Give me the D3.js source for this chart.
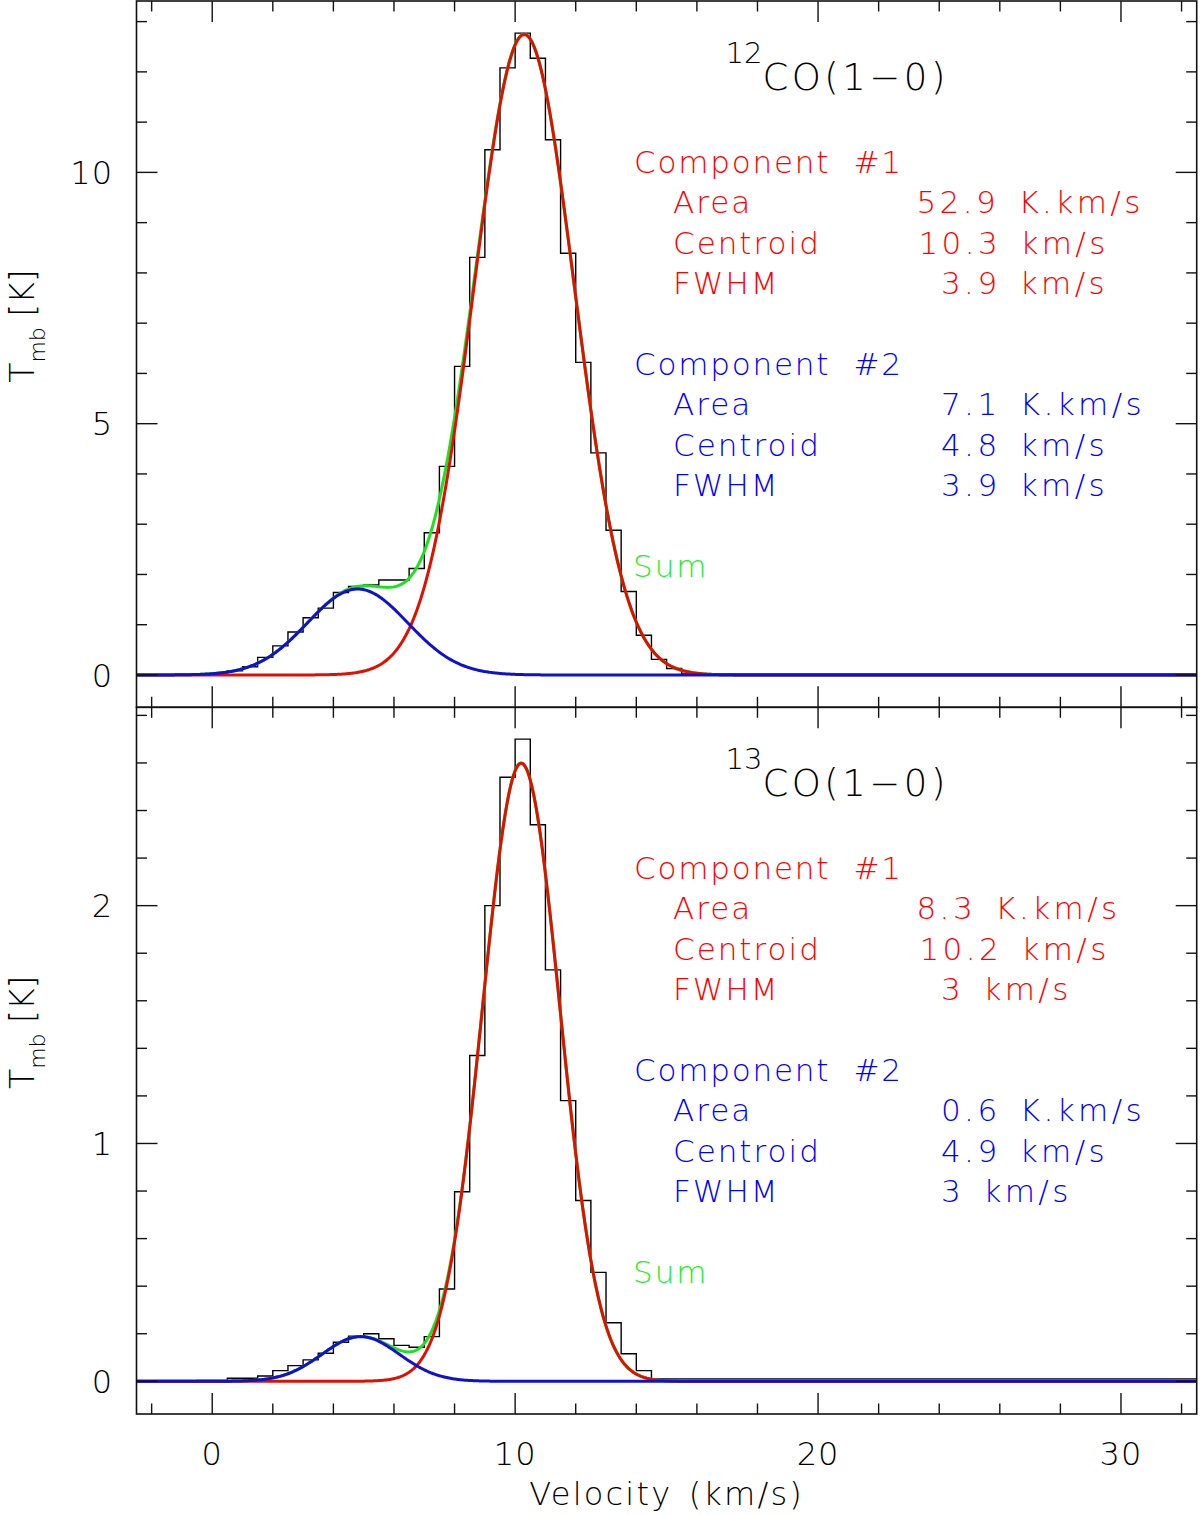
<!DOCTYPE html>
<html>
<head>
<meta charset="utf-8">
<script src="https://cdn.jsdelivr.net/npm/d3@7"></script>
<style>
  html, body { margin: 0; padding: 0; background: #fff; }
  svg { display: block; }
  text { font-family: "DejaVu Sans", "Liberation Sans", sans-serif; font-weight: 200; }
</style>
</head>
<body>
<svg id="chart" width="1200" height="1515"></svg>
<script>
// ---------------- DATA ----------------
// 12CO(1-0) spectrum: channel centre velocities (km/s) and Tmb (K)
const velocity12 = [-0.25, 0.25, 0.75, 1.25, 1.75, 2.25, 2.75, 3.25, 3.75, 4.25, 4.75, 5.25, 5.75, 6.25, 6.75, 7.25, 7.75,
                    8.25, 8.75, 9.25, 9.75, 10.25, 10.75, 11.25, 11.75, 12.25, 12.75, 13.25, 13.75, 14.25, 14.75, 15.25, 15.75];
const tmb12 = [0.01, 0.03, 0.085, 0.165, 0.35, 0.58, 0.855, 1.14, 1.33, 1.64, 1.76, 1.79, 1.89, 1.89, 2.12, 2.83, 4.15,
               6.14, 8.31, 10.45, 12.08, 12.77, 12.27, 10.65, 8.39, 6.22, 4.42, 2.88, 1.66, 0.79, 0.31, 0.13, 0.02];

// 13CO(1-0) spectrum
const velocity13 = [-0.25, 0.25, 0.75, 1.25, 1.75, 2.25, 2.75, 3.25, 3.75, 4.25, 4.75, 5.25, 5.75, 6.25, 6.75, 7.25, 7.75,
                    8.25, 8.75, 9.25, 9.75, 10.25, 10.75, 11.25, 11.75, 12.25, 12.75, 13.25, 13.75, 14.25, 14.75];
const tmb13 = [0.004, 0.004, 0.013, 0.013, 0.022, 0.045, 0.066, 0.09, 0.118, 0.164, 0.19, 0.20, 0.179, 0.151, 0.143, 0.188, 0.388,
               0.797, 1.37, 2.00, 2.54, 2.70, 2.34, 1.73, 1.18, 0.76, 0.458, 0.246, 0.116, 0.045, 0.01];
const channelWidth = 0.5;

// Gaussian fit results (from the annotations)
const fitArea12     = [52.9, 7.1];   // K.km/s  [component #1, component #2]
const fitCentroid12 = [10.3, 4.8];   // km/s
const fitFwhm12     = [3.9, 3.9];    // km/s
const fitArea13     = [8.3, 0.6];
const fitCentroid13 = [10.2, 4.9];
const fitFwhm13     = [3, 3];

// Annotation strings
const lineNames = ["12", "13"];
const compLabels = ["Component  #1", "Component  #2"];
const paramLabels = ["Area", "Centroid", "FWHM"];
const valueText12 = [["52.9 K.km/s", "10.3 km/s", "3.9 km/s"], ["7.1 K.km/s", "4.8 km/s", "3.9 km/s"]];
const valueText13 = [["8.3 K.km/s", "10.2 km/s", "3 km/s"], ["0.6 K.km/s", "4.9 km/s", "3 km/s"]];

// Axis ticks
const xDomain = [-2.5, 32.5];
const xMajor = [0, 10, 20, 30];
const xMinor = [-2, 2, 4, 6, 8, 12, 14, 16, 18, 22, 24, 26, 28, 32];
const yDomain12 = [-0.643, 13.41];
const yMajor12 = [0, 5, 10];
const yMinor12 = [1, 2, 3, 4, 6, 7, 8, 9, 11, 12, 13];
const yDomain13 = [-0.1375, 2.834];
const yMajor13 = [0, 1, 2];
const yMinor13 = [0.2, 0.4, 0.6, 0.8, 1.2, 1.4, 1.6, 1.8, 2.2, 2.4, 2.6, 2.8];

// ---------------- LAYOUT ----------------
const L = 136.5, R = 1196.7;
const panels = [
  { top: 1,     bottom: 707.3, yDomain: yDomain12, yMajor: yMajor12, yMinor: yMinor12,
    vel: velocity12, tmb: tmb12, area: fitArea12, cen: fitCentroid12, fwhm: fitFwhm12,
    values: valueText12, iso: lineNames[0], xLabels: false },
  { top: 707.3, bottom: 1414,  yDomain: yDomain13, yMajor: yMajor13, yMinor: yMinor13,
    vel: velocity13, tmb: tmb13, area: fitArea13, cen: fitCentroid13, fwhm: fitFwhm13,
    values: valueText13, iso: lineNames[1], xLabels: true }
];
const valueX = [[[916.5, 918.5, 941], [941, 941, 941]], [[916.5, 919.5, 941], [941, 941, 941]]];

const colRed = "#ff0000", colBlue = "#0000ff", colGreen = "#22ee22";
const curveRed = "#e01000", curveBlue = "#1010d0", curveGreen = "#1fe01f";
const axisCol = "#111";

const svg = d3.select("#chart");
const x = d3.scaleLinear().domain(xDomain).range([L, R]);

function gauss(v, area, cen, fwhm) {
  const sigma = fwhm / (2 * Math.sqrt(2 * Math.log(2)));
  const peak = area / (sigma * Math.sqrt(2 * Math.PI));
  return peak * Math.exp(-0.5 * ((v - cen) / sigma) ** 2);
}

panels.forEach((p, pi) => {
  const y = d3.scaleLinear().domain(p.yDomain).range([p.bottom, p.top]);
  const g = svg.append("g");
  const clipId = "clip" + pi;
  svg.append("clipPath").attr("id", clipId).append("rect")
    .attr("x", L).attr("y", p.top).attr("width", R - L).attr("height", p.bottom - p.top);
  const plot = g.append("g").attr("clip-path", `url(#${clipId})`);

  // histogram (step) path
  const steps = [[xDomain[0], 0]];
  p.vel.forEach((v, i) => {
    steps.push([v - channelWidth / 2, p.tmb[i]]);
    steps.push([v + channelWidth / 2, p.tmb[i]]);
  });
  steps.push([xDomain[1], 0]);
  const stepPts = [];
  steps.forEach((s, i) => {
    if (i > 0) stepPts.push([s[0], steps[i - 1][1]]);
    stepPts.push(s);
  });
  const line = d3.line().x(d => x(d[0])).y(d => y(d[1]));
  plot.append("path").attr("d", line(stepPts))
    .attr("fill", "none").attr("stroke", "#000").attr("stroke-width", 1.4);

  // model curves
  const vs = d3.range(xDomain[0], xDomain[1] + 0.001, 0.04);
  const c1 = vs.map(v => [v, gauss(v, p.area[0], p.cen[0], p.fwhm[0])]);
  const c2 = vs.map(v => [v, gauss(v, p.area[1], p.cen[1], p.fwhm[1])]);
  const sum = vs.map((v, i) => [v, c1[i][1] + c2[i][1]]);
  plot.append("path").attr("d", line(sum)).attr("fill", "none")
    .attr("stroke", curveGreen).attr("stroke-width", 3);
  plot.append("path").attr("d", line(c1)).attr("fill", "none")
    .attr("stroke", curveRed).attr("stroke-width", 3);
  plot.append("path").attr("d", line(c2)).attr("fill", "none")
    .attr("stroke", curveBlue).attr("stroke-width", 3);

  // frame
  g.append("rect").attr("x", L).attr("y", p.top).attr("width", R - L).attr("height", p.bottom - p.top)
    .attr("fill", "none").attr("stroke", axisCol).attr("stroke-width", 1.6);

  // ticks
  const tk = g.append("g").attr("stroke", axisCol).attr("stroke-width", 1.4);
  const addX = (vals, len) => vals.forEach(v => {
    tk.append("line").attr("x1", x(v)).attr("x2", x(v)).attr("y1", p.top).attr("y2", p.top + len);
    tk.append("line").attr("x1", x(v)).attr("x2", x(v)).attr("y1", p.bottom).attr("y2", p.bottom - len);
  });
  addX(xMajor, 21); addX(xMinor, 10.5);
  const addY = (vals, len) => vals.forEach(v => {
    tk.append("line").attr("x1", L).attr("x2", L + len).attr("y1", y(v)).attr("y2", y(v));
    tk.append("line").attr("x1", R).attr("x2", R - len).attr("y1", y(v)).attr("y2", y(v));
  });
  addY(p.yMajor, 21); addY(p.yMinor, 10.5);

  // y tick labels
  g.selectAll(".ylab").data(p.yMajor).enter().append("text")
    .attr("x", 113).attr("y", d => y(d)).attr("dy", "0.36em")
    .attr("text-anchor", "end").attr("font-size", 32).attr("letter-spacing", 1)
    .attr("fill", "#000").text(d => d);

  // y axis title
  const yt = g.append("text")
    .attr("transform", `translate(33.5,${p.top + 325}) rotate(-90)`)
    .attr("text-anchor", "middle").attr("font-size", 33).attr("fill", "#000");
  yt.append("tspan").text("T");
  yt.append("tspan").attr("font-size", 22).attr("dy", 11).text("mb");
  yt.append("tspan").attr("dy", -11).text(" [K]");

  // species label
  const off = p.top - 1;
  const tt = g.append("text").attr("x", 725.5).attr("y", 90 + off).attr("fill", "#000");
  tt.append("tspan").attr("font-size", 29).attr("dy", -27).text(p.iso);
  tt.append("tspan").attr("font-size", 37).attr("dy", 27).attr("letter-spacing", 3.5).text("CO(1\u22120)");

  // component annotations
  const baseY = [172.7, 374.7];
  [colRed, colBlue].forEach((col, ci) => {
    const b = baseY[ci] + off;
    g.append("text").attr("x", 634).attr("y", b).attr("fill", col)
      .attr("font-size", 31).attr("letter-spacing", 1.8).attr("xml:space", "preserve").text(compLabels[ci]);
    paramLabels.forEach((lab, li) => {
      g.append("text").attr("x", 673).attr("y", b + 40.4 * (li + 1)).attr("fill", col)
        .attr("font-size", 31).attr("letter-spacing", 2).text(lab);
      g.append("text").attr("x", valueX[pi][ci][li]).attr("y", b + 40.4 * (li + 1)).attr("fill", col)
        .attr("font-size", 31).attr("letter-spacing", 3.4).attr("word-spacing", 6)
        .text(p.values[ci][li]);
    });
  });
  g.append("text").attr("x", 633).attr("y", 577 + off).attr("fill", colGreen)
    .attr("font-size", 31).attr("letter-spacing", 2).text("Sum");

  // x tick labels
  if (p.xLabels) {
    g.selectAll(".xlab").data(xMajor).enter().append("text")
      .attr("x", d => x(d)).attr("y", 1465).attr("text-anchor", "middle")
      .attr("font-size", 32).attr("letter-spacing", 1).attr("fill", "#000").text(d => d);
  }
});

svg.append("text").attr("x", (L + R) / 2).attr("y", 1505).attr("text-anchor", "middle")
  .attr("font-size", 32).attr("letter-spacing", 2.2).attr("word-spacing", 4).attr("fill", "#000")
  .text("Velocity (km/s)");
</script>
</body>
</html>
